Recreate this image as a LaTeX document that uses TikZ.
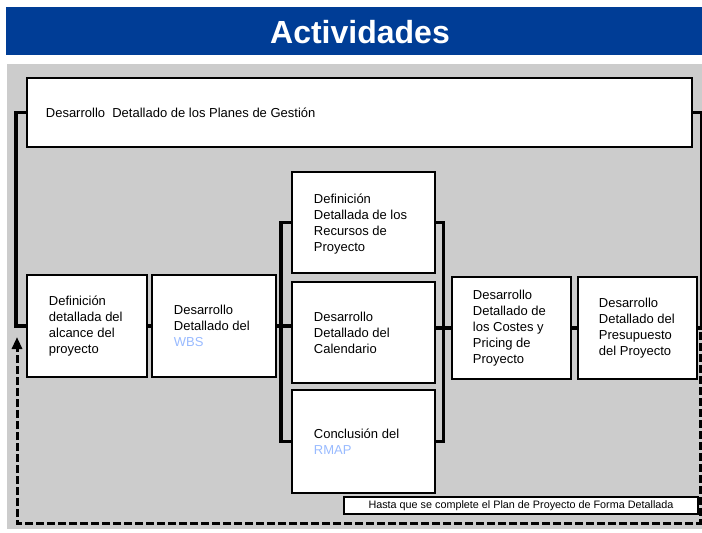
\documentclass[tikz,border=0pt]{standalone}
\usepackage{fontspec}
\setmainfont{Liberation Sans}
\usetikzlibrary{arrows.meta,calc}
\definecolor{barblue}{RGB}{0,61,150}
\definecolor{panelgray}{RGB}{204,204,204}
\definecolor{linkblue}{RGB}{153,187,255}
\begin{document}
\begin{tikzpicture}[x=1pt,y=-1pt,
  box/.style={draw=black,fill=white,line width=2.6pt,inner sep=0pt},
  txt/.style={anchor=west,align=left,inner sep=0pt,font=\fontsize{13}{16}\selectfont},
  link/.style={line width=3.6pt},
  loopline/.style={line width=3pt,dash pattern=on 8pt off 3pt,-{Triangle[length=12pt,width=10pt]}}
]
\useasboundingbox (0,0) rectangle (702,533);
\fill[barblue] (6,7) rectangle (702,55);
\node[text=white,font=\fontsize{32}{36}\bfseries\selectfont] (title) at (360,32) {Actividades};
\fill[panelgray] (7,64) rectangle (702,529);

% boxes
\node[box,minimum width=665pt,minimum height=69pt] (top) at (359.5,112.5) {};
\node[box,minimum width=120pt,minimum height=102pt] (alc) at (87,326) {};
\node[box,minimum width=124pt,minimum height=102pt] (wbs) at (214,326) {};
\node[box,minimum width=143pt,minimum height=101pt] (res) at (363.5,222.5) {};
\node[box,minimum width=143pt,minimum height=101pt] (cal) at (363.5,332.5) {};
\node[box,minimum width=143pt,minimum height=103pt] (rmap) at (363.5,441.5) {};
\node[box,minimum width=119pt,minimum height=102pt] (cost) at (511.5,328) {};
\node[box,minimum width=119pt,minimum height=102pt] (pres) at (637.5,328) {};
\node[box,minimum width=354pt,minimum height=17pt,font=\fontsize{10.8}{12}\selectfont] (hasta) at (521,505.5) {Hasta que se complete el Plan de Proyecto de Forma Detallada};

% texts
\node[txt] (ttop) at ([xshift=20pt]top.west) {Desarrollo\ \ Detallado de los Planes de Gestión};
\node[txt] (talc) at ([xshift=23pt]alc.west) {Definición\\detallada del\\alcance del\\proyecto};
\node[txt] (twbs) at ([xshift=23pt]wbs.west) {Desarrollo\\Detallado del\\\textcolor{linkblue}{WBS}};
\node[txt] (tres) at ([xshift=23pt,yshift=-2pt]res.west) {Definición\\Detallada de los\\Recursos de\\Proyecto};
\node[txt] (tcal) at ([xshift=23pt]cal.west) {Desarrollo\\Detallado del\\Calendario};
\node[txt] (trmap) at ([xshift=23pt]rmap.west) {Conclusión del\\\textcolor{linkblue}{RMAP}};
\node[txt] (tcost) at ([xshift=22pt]cost.west) {Desarrollo\\Detallado de\\los Costes y\\Pricing de\\Proyecto};
\node[txt] (tpres) at ([xshift=22pt]pres.west) {Desarrollo\\Detallado del\\Presupuesto\\del Proyecto};

% connectors
\draw[link] (top.west) -- ++(-10,0) |- (alc.west);
\draw[link] (top.east) -- ++(8,0) |- (pres.east);
\draw[link] (alc.east) -- (wbs.west);
\draw[link] (wbs.east) -- (wbs.east -| cal.west);
\draw[link] (res.west) -- ++(-10,0) |- (rmap.west);
\draw[link] (res.east) -- ++(7,0) |- (rmap.east);
\draw[link] (cal.east |- cost.west) -- (cost.west);
\draw[link] (cost.east) -- (pres.west);

% feedback loop
\coordinate (dstart) at (700,332);
\coordinate (dend) at (17,337);
\draw[loopline] (dstart) -- (700,523) -| (dend);
\end{tikzpicture}
\end{document}
